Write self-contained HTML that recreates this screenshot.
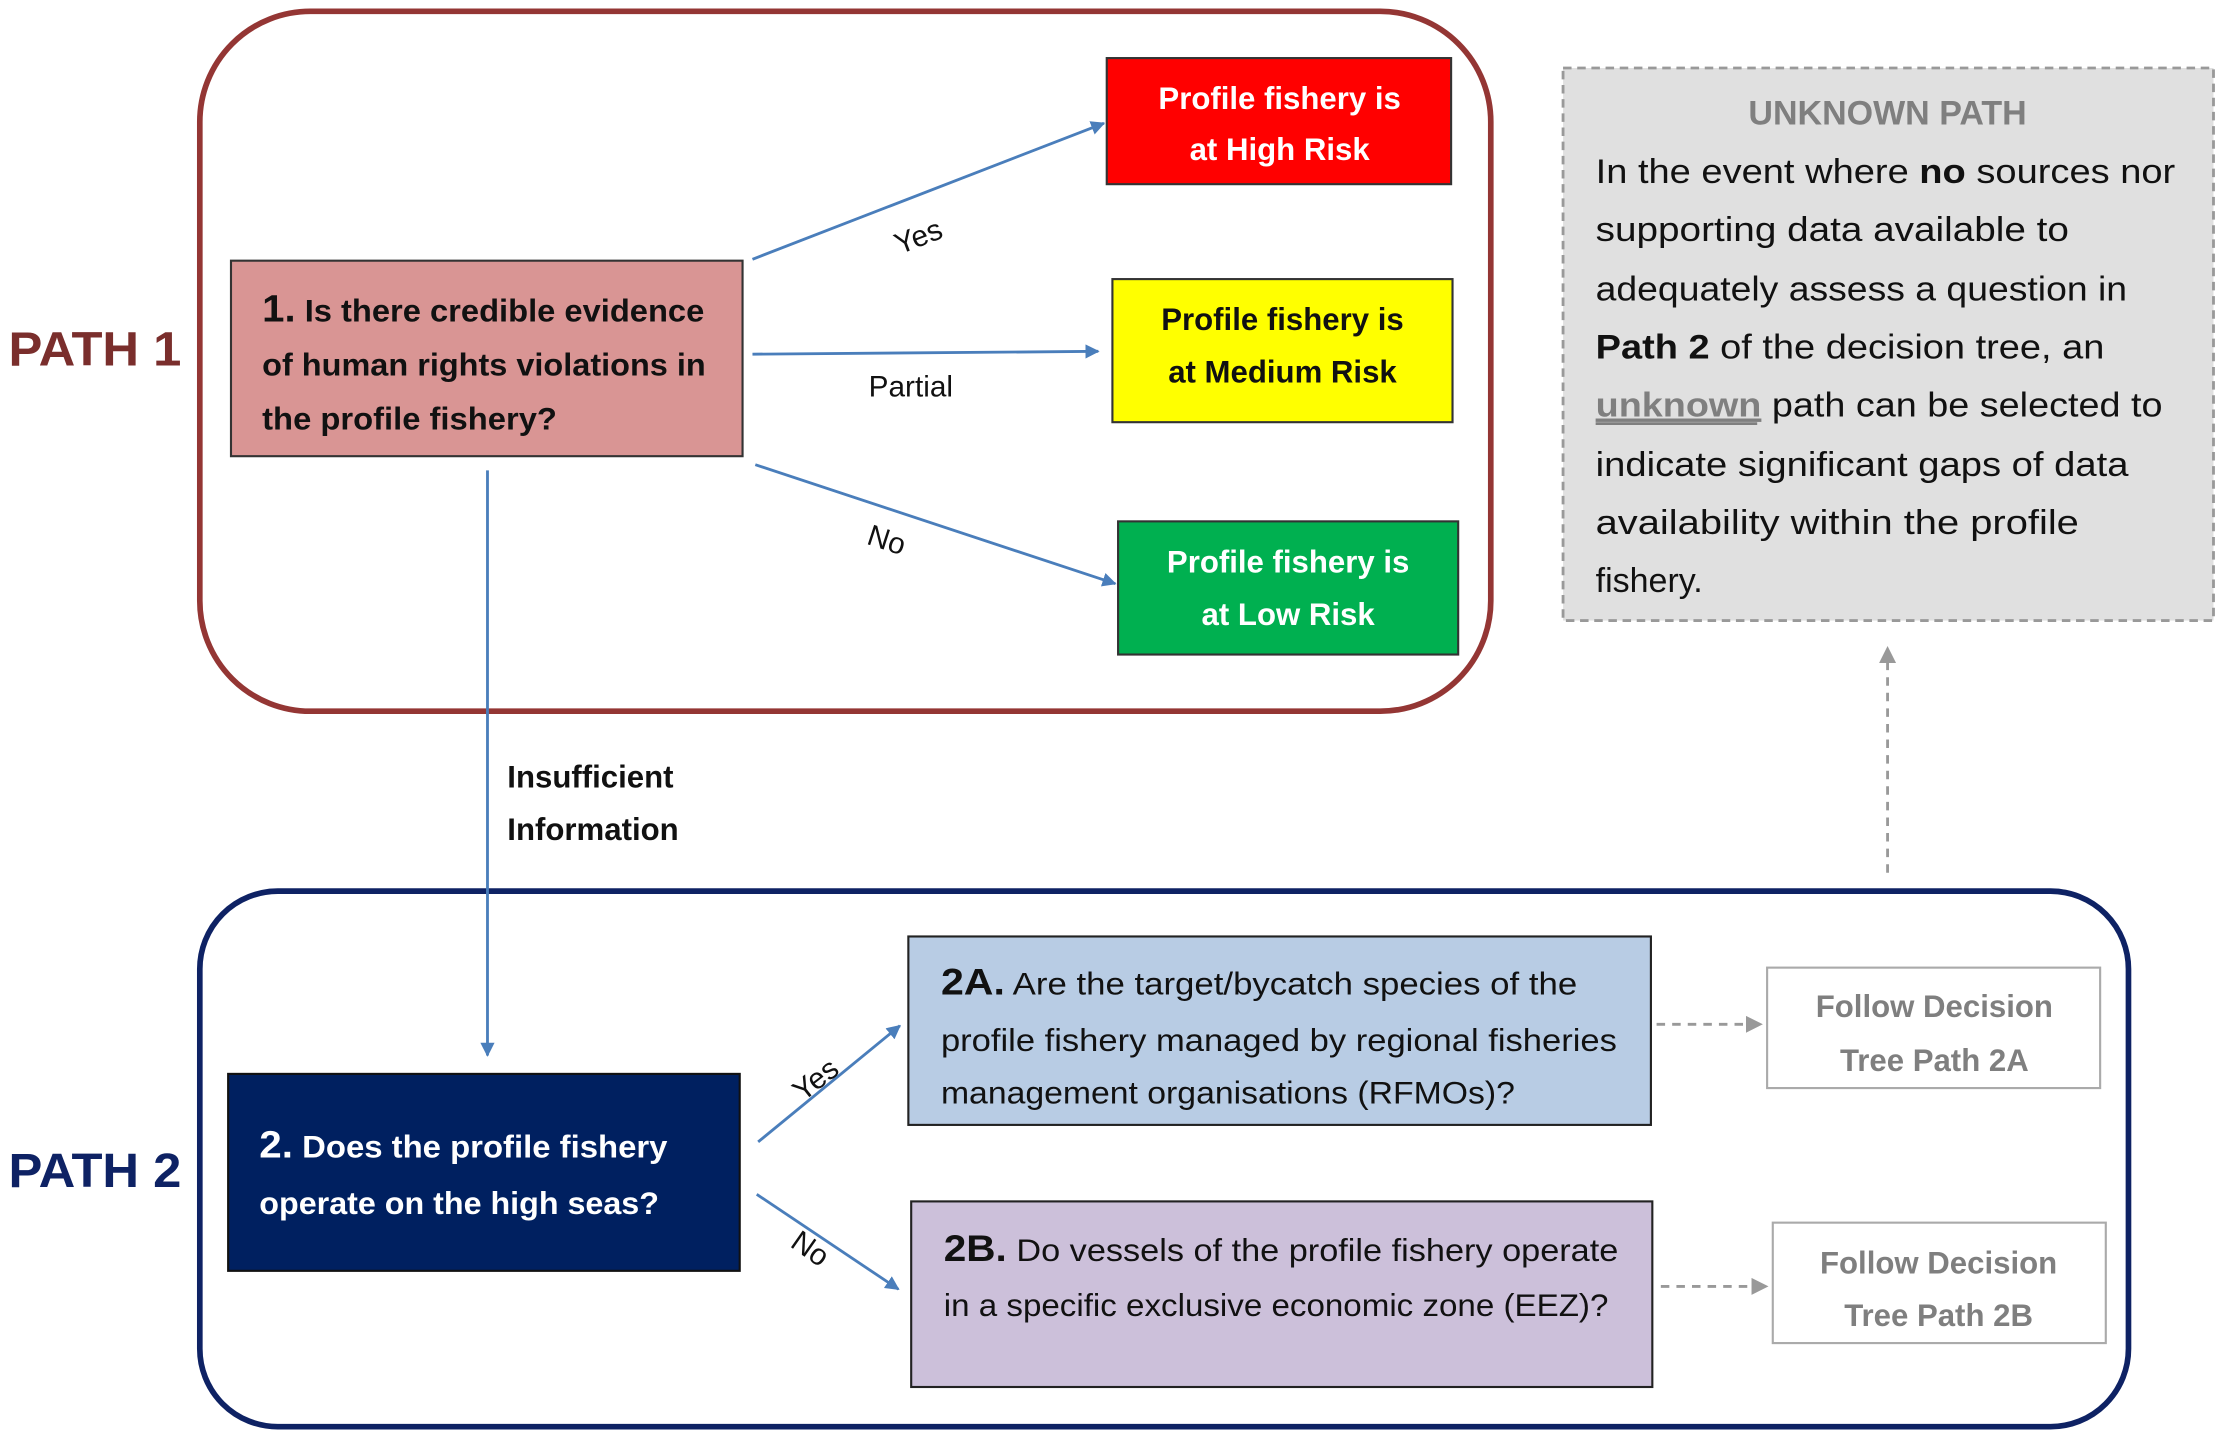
<!DOCTYPE html>
<html><head><meta charset="utf-8"><style>
html,body{margin:0;padding:0;background:#fff;}
svg{display:block;}
text{font-family:"Liberation Sans",sans-serif;}
</style></head><body>
<svg width="2222" height="1438" viewBox="0 0 1568 1015" preserveAspectRatio="none" xmlns="http://www.w3.org/2000/svg">
<defs>
<marker id="ab" markerWidth="10" markerHeight="10" refX="9" refY="5" orient="auto" markerUnits="userSpaceOnUse" viewBox="0 0 10 10"><path d="M0,0 L10,5 L0,10 z" fill="#4a7ebb"/></marker>
<marker id="ag" markerWidth="12" markerHeight="12" refX="10" refY="6" orient="auto" markerUnits="userSpaceOnUse" viewBox="0 0 12 12"><path d="M0,0 L12,6 L0,12 z" fill="#999"/></marker>
</defs>
<!-- Path containers -->
<rect x="141" y="8" width="911" height="494" rx="78" fill="none" stroke="#943634" stroke-width="4"/>
<rect x="141" y="629" width="1361" height="378" rx="55" fill="none" stroke="#0e2264" stroke-width="4"/>
<text x="6" y="258" font-size="34" font-weight="bold" fill="#7a2e2c" textLength="122" lengthAdjust="spacingAndGlyphs">PATH 1</text>
<text x="6" y="838" font-size="34" font-weight="bold" fill="#0e2264" textLength="122" lengthAdjust="spacingAndGlyphs">PATH 2</text>

<!-- Q1 -->
<rect x="163" y="184" width="361" height="138" fill="#d99594" stroke="#333" stroke-width="1.5"/>
<g font-size="22" font-weight="bold" fill="#111">
<text x="185" y="227" textLength="312" lengthAdjust="spacingAndGlyphs"><tspan font-size="27">1.</tspan> Is there credible evidence</text>
<text x="185" y="265" textLength="313" lengthAdjust="spacingAndGlyphs">of human rights violations in</text>
<text x="185" y="303" textLength="208" lengthAdjust="spacingAndGlyphs">the profile fishery?</text>
</g>

<!-- Risk boxes -->
<rect x="781" y="41" width="243" height="89" fill="#ff0000" stroke="#333" stroke-width="1.5"/>
<text x="903" y="77" font-size="22" font-weight="bold" fill="#fff" text-anchor="middle">Profile fishery is</text>
<text x="903" y="113" font-size="22" font-weight="bold" fill="#fff" text-anchor="middle">at High Risk</text>
<rect x="785" y="197" width="240" height="101" fill="#ffff00" stroke="#333" stroke-width="1.5"/>
<text x="905" y="233" font-size="22" font-weight="bold" fill="#111" text-anchor="middle">Profile fishery is</text>
<text x="905" y="270" font-size="22" font-weight="bold" fill="#111" text-anchor="middle">at Medium Risk</text>
<rect x="789" y="368" width="240" height="94" fill="#00b050" stroke="#333" stroke-width="1.5"/>
<text x="909" y="404" font-size="22" font-weight="bold" fill="#fff" text-anchor="middle">Profile fishery is</text>
<text x="909" y="441" font-size="22" font-weight="bold" fill="#fff" text-anchor="middle">at Low Risk</text>

<!-- P1 arrows -->
<g stroke="#4a7ebb" stroke-width="2" fill="none">
<line x1="531" y1="183" x2="779" y2="87" marker-end="url(#ab)"/>
<line x1="531" y1="250" x2="775" y2="248" marker-end="url(#ab)"/>
<line x1="533" y1="328" x2="787" y2="412" marker-end="url(#ab)"/>
<line x1="344" y1="332" x2="344" y2="745" marker-end="url(#ab)"/>
<line x1="535" y1="806" x2="635" y2="724" marker-end="url(#ab)"/>
<line x1="534" y1="843" x2="634" y2="910" marker-end="url(#ab)"/>
</g>
<text x="630" y="175" font-size="21" fill="#111" transform="rotate(-21 645 165)">Yes</text>
<text x="613" y="280" font-size="21" fill="#111">Partial</text>
<text x="612" y="388" font-size="21" fill="#111" transform="rotate(18 625 382)">No</text>
<text x="358" y="556" font-size="22" font-weight="bold" fill="#111">Insufficient</text>
<text x="358" y="593" font-size="22" font-weight="bold" fill="#111">Information</text>
<text x="556" y="772" font-size="21" fill="#111" transform="rotate(-38 570 760)">Yes</text>
<text x="556" y="888" font-size="21" fill="#111" transform="rotate(35 570 885)">No</text>

<!-- Q2 -->
<rect x="161" y="758" width="361" height="139" fill="#002060" stroke="#111" stroke-width="1.5"/>
<text x="183" y="817" font-size="22" font-weight="bold" fill="#fff" textLength="288" lengthAdjust="spacingAndGlyphs"><tspan font-size="27">2.</tspan> Does the profile fishery</text>
<text x="183" y="857" font-size="22" font-weight="bold" fill="#fff" textLength="282" lengthAdjust="spacingAndGlyphs">operate on the high seas?</text>

<!-- 2A -->
<rect x="641" y="661" width="524" height="133" fill="#b8cce4" stroke="#222" stroke-width="1.5"/>
<g font-size="22" fill="#111">
<text x="664" y="702" textLength="449" lengthAdjust="spacingAndGlyphs"><tspan font-weight="bold" font-size="26">2A.</tspan> Are the target/bycatch species of the</text>
<text x="664" y="742" textLength="477" lengthAdjust="spacingAndGlyphs">profile fishery managed by regional fisheries</text>
<text x="664" y="779" textLength="405" lengthAdjust="spacingAndGlyphs">management organisations (RFMOs)?</text>
</g>
<!-- 2B -->
<rect x="643" y="848" width="523" height="131" fill="#ccc0da" stroke="#222" stroke-width="1.5"/>
<g font-size="22" fill="#111">
<text x="666" y="890" textLength="476" lengthAdjust="spacingAndGlyphs"><tspan font-weight="bold" font-size="26">2B.</tspan> Do vessels of the profile fishery operate</text>
<text x="666" y="929" textLength="469" lengthAdjust="spacingAndGlyphs">in a specific exclusive economic zone (EEZ)?</text>
</g>

<!-- Follow boxes -->
<rect x="1247" y="683" width="235" height="85" fill="#fff" stroke="#aaa" stroke-width="1.5"/>
<text x="1365" y="718" font-size="22" font-weight="bold" fill="#7f7f7f" text-anchor="middle">Follow Decision</text>
<text x="1365" y="756" font-size="22" font-weight="bold" fill="#7f7f7f" text-anchor="middle">Tree Path 2A</text>
<rect x="1251" y="863" width="235" height="85" fill="#fff" stroke="#aaa" stroke-width="1.5"/>
<text x="1368" y="899" font-size="22" font-weight="bold" fill="#7f7f7f" text-anchor="middle">Follow Decision</text>
<text x="1368" y="936" font-size="22" font-weight="bold" fill="#7f7f7f" text-anchor="middle">Tree Path 2B</text>
<g stroke="#999" stroke-width="2" stroke-dasharray="6,5" fill="none">
<line x1="1169" y1="723" x2="1242" y2="723" marker-end="url(#ag)"/>
<line x1="1172" y1="908" x2="1246" y2="908" marker-end="url(#ag)"/>
<line x1="1332" y1="616" x2="1332" y2="458" marker-end="url(#ag)"/>
</g>

<!-- Unknown path -->
<rect x="1103" y="48" width="459" height="390" fill="#e0e0e0" stroke="#999" stroke-width="2" stroke-dasharray="6,4"/>
<text x="1332" y="88" font-size="24" font-weight="bold" fill="#7f7f7f" text-anchor="middle">UNKNOWN PATH</text>
<g font-size="24" fill="#111">
<text x="1126" y="129" textLength="409" lengthAdjust="spacingAndGlyphs">In the event where <tspan font-weight="bold">no</tspan> sources nor</text>
<text x="1126" y="170" textLength="334" lengthAdjust="spacingAndGlyphs">supporting data available to</text>
<text x="1126" y="212" textLength="375" lengthAdjust="spacingAndGlyphs">adequately assess a question in</text>
<text x="1126" y="253" textLength="359" lengthAdjust="spacingAndGlyphs"><tspan font-weight="bold">Path 2</tspan> of the decision tree, an</text>
<text x="1126" y="294" textLength="400" lengthAdjust="spacingAndGlyphs"><tspan font-weight="bold" fill="#7f7f7f" text-decoration="underline">unknown</tspan> path can be selected to</text>
<text x="1126" y="336" textLength="376" lengthAdjust="spacingAndGlyphs">indicate significant gaps of data</text>
<text x="1126" y="377" textLength="341" lengthAdjust="spacingAndGlyphs">availability within the profile</text>
<text x="1126" y="418">fishery.</text>
</g>
<line x1="1126" y1="299" x2="1240" y2="299" stroke="#7f7f7f" stroke-width="2"/>
</svg>
</body></html>
